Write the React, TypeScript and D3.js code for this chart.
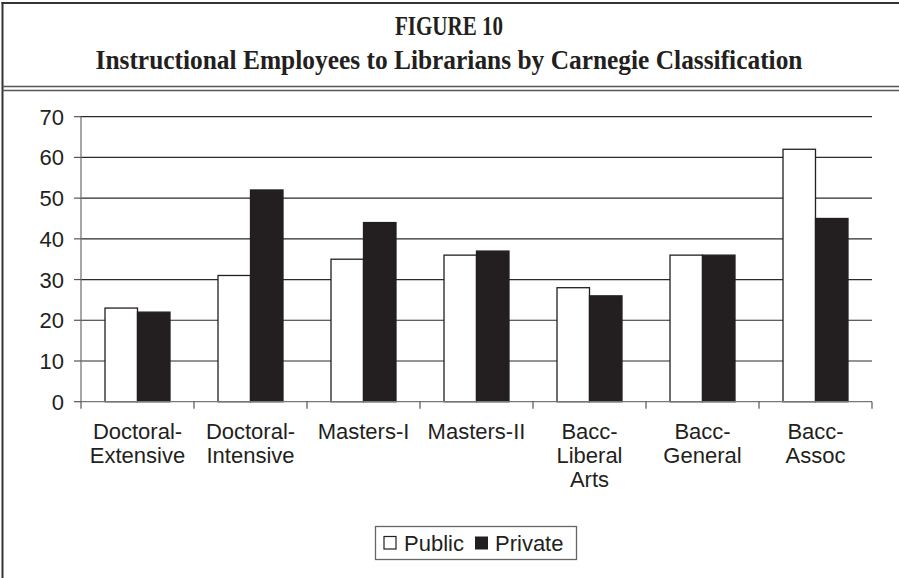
import React from "react";
import * as d3 from "d3";

const categories: string[][] = [
  ["Doctoral-", "Extensive"],
  ["Doctoral-", "Intensive"],
  ["Masters-I"],
  ["Masters-II"],
  ["Bacc-", "Liberal", "Arts"],
  ["Bacc-", "General"],
  ["Bacc-", "Assoc"],
];
const publicValues = [23, 31, 35, 36, 28, 36, 62];
const privateValues = [22, 52, 44, 37, 26, 36, 45];
const seriesNames = ["Public", "Private"];
const yTicks = [0, 10, 20, 30, 40, 50, 60, 70];
const titleLines = ["FIGURE 10", "Instructional Employees to Librarians by Carnegie Classification"];

const W = 899;
const H = 578;
const plot = { left: 81, right: 872, top: 116.7, bottom: 401.7 };

export default function App() {
  const keys = categories.map((c) => c.join(" "));
  const x0 = d3
    .scaleBand<string>()
    .domain(keys)
    .range([plot.left, plot.right])
    .paddingInner(0.425)
    .paddingOuter(0.2125);
  const x1 = d3.scaleBand<string>().domain(seriesNames).range([0, x0.bandwidth()]).padding(0);
  const y = d3.scaleLinear().domain([0, 70]).range([plot.bottom, plot.top]);
  const step = x0.step();
  const boundaries = d3.range(categories.length + 1).map((i) => plot.left + i * step);
  const sans = "'Liberation Sans', Arial, Helvetica, sans-serif";
  const serif = "'Liberation Serif', 'Times New Roman', serif";
  const series = [publicValues, privateValues];
  const fs = 22;

  return (
    <div style={{ position: "absolute", left: 0, top: 0 }}>
      <svg width={W} height={H} style={{ display: "block", background: "#fff" }}>
        {/* frame */}
        <line x1={2.5} x2={2.5} y1={2} y2={H} stroke="#333" strokeWidth={2} />
        <line x1={1.5} x2={W} y1={3} y2={3} stroke="#333" strokeWidth={2} />
        <line x1={2.5} x2={W} y1={86.5} y2={86.5} stroke="#555" strokeWidth={1.6} />
        <line x1={2.5} x2={W} y1={90.5} y2={90.5} stroke="#555" strokeWidth={1.6} />

        {/* title */}
        <text
          x={449}
          y={35}
          textAnchor="middle"
          fontFamily={serif}
          fontWeight="bold"
          fontSize={27}
          fill="#231f20"
          textLength={108}
          lengthAdjust="spacingAndGlyphs"
        >
          {titleLines[0]}
        </text>
        <text
          x={449}
          y={68.5}
          textAnchor="middle"
          fontFamily={serif}
          fontWeight="bold"
          fontSize={27}
          fill="#231f20"
          textLength={707}
          lengthAdjust="spacingAndGlyphs"
        >
          {titleLines[1]}
        </text>

        {/* gridlines */}
        {yTicks.map((t) =>
          t === 0 ? null : (
            <line key={t} x1={plot.left} x2={plot.right} y1={y(t)} y2={y(t)} stroke="#2a2a2a" strokeWidth={1.2} />
          )
        )}

        {/* bars */}
        {keys.map((k, i) => (
          <g key={k} transform={`translate(${x0(k)},0)`}>
            {seriesNames.map((s, j) => (
              <rect
                key={s}
                x={x1(s)}
                y={y(series[j][i])}
                width={x1.bandwidth()}
                height={y(0) - y(series[j][i])}
                fill={j === 0 ? "#fff" : "#231f20"}
                stroke="#231f20"
                strokeWidth={1.3}
              />
            ))}
          </g>
        ))}

        {/* axes */}
        <line x1={plot.left} x2={plot.left} y1={plot.top} y2={plot.bottom} stroke="#777" strokeWidth={1.3} />
        <line x1={plot.left} x2={plot.right} y1={plot.bottom} y2={plot.bottom} stroke="#777" strokeWidth={1.3} />
        {yTicks.map((t) => (
          <g key={t}>
            <line x1={plot.left - 7} x2={plot.left} y1={y(t)} y2={y(t)} stroke="#555" strokeWidth={1.2} />
            <text x={64} y={y(t) + 8} textAnchor="end" fontFamily={sans} fontSize={fs} fill="#231f20">
              {t}
            </text>
          </g>
        ))}
        {boundaries.map((bx, i) => (
          <line key={i} x1={bx} x2={bx} y1={plot.bottom} y2={plot.bottom + 7} stroke="#555" strokeWidth={1.2} />
        ))}
        {categories.map((lines, i) => (
          <text
            key={i}
            x={(x0(keys[i]) as number) + x0.bandwidth() / 2}
            y={439}
            textAnchor="middle"
            fontFamily={sans}
            fontSize={fs}
            fill="#231f20"
          >
            {lines.map((ln, j) => (
              <tspan key={j} x={(x0(keys[i]) as number) + x0.bandwidth() / 2} dy={j === 0 ? 0 : 24}>
                {ln}
              </tspan>
            ))}
          </text>
        ))}

        {/* legend */}
        <rect x={375.5} y={526.5} width={201} height={33} fill="#fff" stroke="#666" strokeWidth={1.3} />
        <rect x={384} y={536.5} width={12} height={12.5} fill="#fff" stroke="#231f20" strokeWidth={1.2} />
        <text x={404} y={550.5} fontFamily={sans} fontSize={fs} fill="#231f20">
          {seriesNames[0]}
        </text>
        <rect x={475} y={536.5} width={13} height={13} fill="#231f20" />
        <text x={495} y={550.5} fontFamily={sans} fontSize={fs} fill="#231f20">
          {seriesNames[1]}
        </text>
      </svg>
    </div>
  );
}
